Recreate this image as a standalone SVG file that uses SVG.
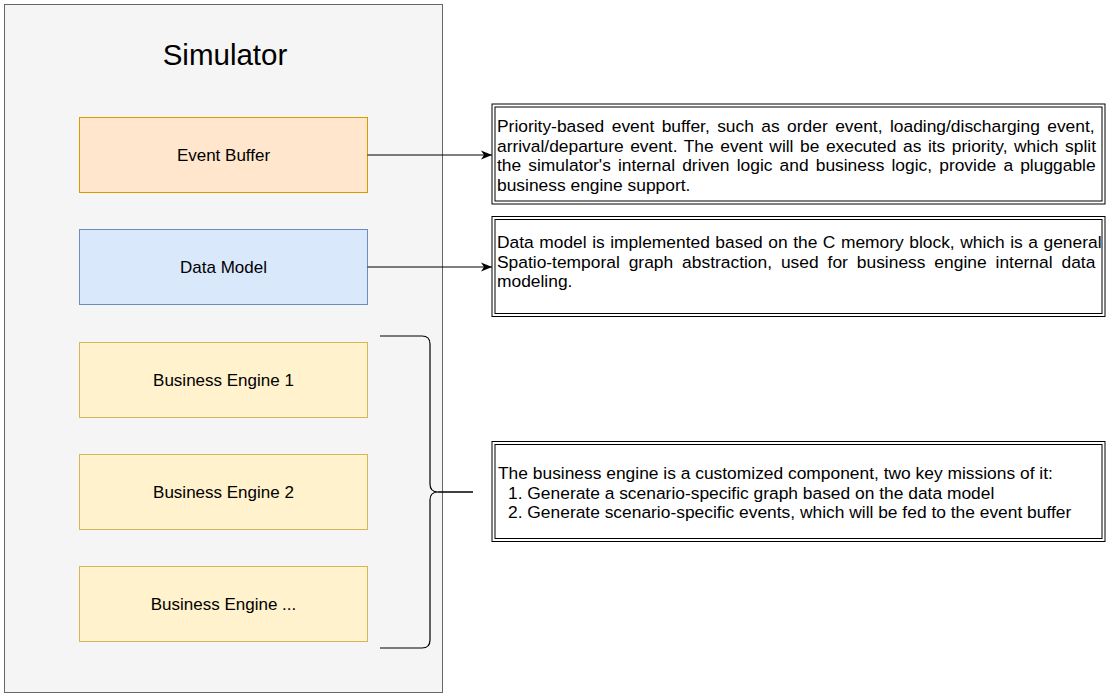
<svg xmlns="http://www.w3.org/2000/svg" width="1109" height="697" viewBox="0 0 1109 697">
<style>
text{font-family:"Liberation Sans",Arial,Helvetica,sans-serif;fill:#000}
.node{font-size:17px;text-anchor:middle}
.desc{font-size:17.4px}
.outer{fill:#fff;stroke:#000;stroke-width:1}
.inner{fill:none;stroke:#000;stroke-width:1}
.conn{fill:none;stroke:#000;stroke-width:1.2}
</style>
<defs>
<marker id="arr" viewBox="0 0 11 10" refX="11" refY="5" markerWidth="11" markerHeight="10" markerUnits="userSpaceOnUse" orient="auto">
<path d="M0,0.5 L11,5 L0,9.5 L3,5 Z" fill="#000"/>
</marker>
</defs>
<g id="simulator">
<rect x="4.5" y="4.5" width="438" height="688" fill="#f5f5f5" stroke="#666666"/>
<text x="225" y="65" font-size="29.5" text-anchor="middle">Simulator</text>
</g>
<g id="event-buffer">
<rect x="79.5" y="117.5" width="288" height="75" fill="#ffe6cc" stroke="#d79b00"/>
<text class="node" x="223.5" y="161">Event Buffer</text>
</g>
<g id="data-model">
<rect x="79.5" y="229.5" width="288" height="75" fill="#dae8fc" stroke="#6c8ebf"/>
<text class="node" x="223.5" y="273">Data Model</text>
</g>
<g id="business-engine-1">
<rect x="79.5" y="342.5" width="288" height="75" fill="#fff2cc" stroke="#d6b656"/>
<text class="node" x="223.5" y="386">Business Engine 1</text>
</g>
<g id="business-engine-2">
<rect x="79.5" y="454.5" width="288" height="75" fill="#fff2cc" stroke="#d6b656"/>
<text class="node" x="223.5" y="498">Business Engine 2</text>
</g>
<g id="business-engine-n">
<rect x="79.5" y="566.5" width="288" height="75" fill="#fff2cc" stroke="#d6b656"/>
<text class="node" x="223.5" y="610">Business Engine ...</text>
</g>
<g id="brace">
<path class="conn" d="M380,336 H422 Q430,336 430,344 V484 Q430,492 438,492 Q430,492 430,500 V640 Q430,648 422,648 H380"/>
<path d="M438,492 H473" fill="none" stroke="#000" stroke-width="1.6"/>
</g>
<g id="desc-event-buffer">
<rect class="outer" x="492" y="104" width="613" height="100"/>
<rect class="inner" x="495" y="107" width="607" height="94"/>
<text class="desc" x="497" y="131.5" word-spacing="2.6">Priority-based event buffer, such as order event, loading/discharging event,</text>
<text class="desc" x="497" y="151.5" word-spacing="1.7">arrival/departure event. The event will be executed as its priority, which split</text>
<text class="desc" x="497" y="171" word-spacing="2.3">the simulator's internal driven logic and business logic, provide a pluggable</text>
<text class="desc" x="497" y="191">business engine support.</text>
</g>
<g id="desc-data-model">
<rect class="outer" x="492" y="216.5" width="613" height="100"/>
<rect class="inner" x="495" y="219.5" width="607" height="94"/>
<text class="desc" x="497" y="248" word-spacing="0.7">Data model is implemented based on the C memory block, which is a general</text>
<text class="desc" x="497" y="267.5" word-spacing="4.1">Spatio-temporal graph abstraction, used for business engine internal data</text>
<text class="desc" x="497" y="287">modeling.</text>
</g>
<g id="desc-business-engine">
<rect class="outer" x="492" y="441.5" width="613" height="100"/>
<rect class="inner" x="495" y="444.5" width="607" height="94"/>
<text class="desc" x="498" y="479">The business engine is a customized component, two key missions of it:</text>
<text class="desc" x="508" y="498.5">1. Generate a scenario-specific graph based on the data model</text>
<text class="desc" x="508" y="518">2. Generate scenario-specific events, which will be fed to the event buffer</text>
</g>
<g id="connectors">
<path class="conn" d="M367.5,155 H492" marker-end="url(#arr)"/>
<path class="conn" d="M367.5,267 H492" marker-end="url(#arr)"/>
</g>
</svg>
